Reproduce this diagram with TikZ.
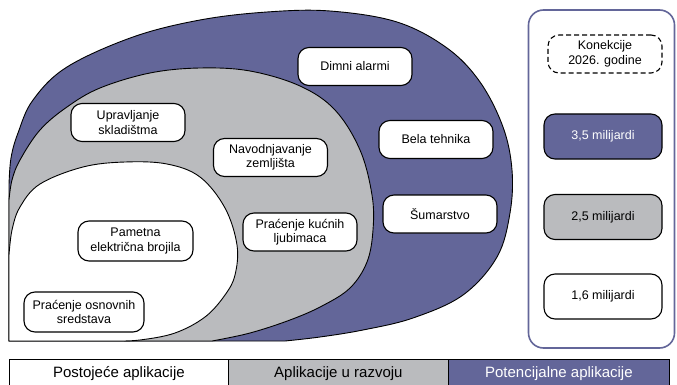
\documentclass[tikz,border=0pt]{standalone}
\usepackage{fontspec}
\setmainfont{Liberation Sans}
\definecolor{pblue}{RGB}{99,102,153}
\definecolor{pgrey}{RGB}{186,187,190}
\begin{document}
\begin{tikzpicture}[x=1pt,y=-1pt,
  appbox/.style={draw=black, line width=1.1pt, fill=white, rounded corners=11pt,
    minimum width=114pt, minimum height=38pt, align=center, inner sep=0pt,
    font=\fontsize{12.5}{14.5}\selectfont},
  valbox/.style={appbox, minimum width=118pt, minimum height=45pt},
  legbox/.style={draw=black, line width=0.8pt, minimum height=28pt, inner sep=0pt,
    anchor=north west, font=\fontsize{15}{18}\selectfont},
  region/.style={draw=black, line width=0.9pt}]
\useasboundingbox (0,0) rectangle (677,385);

% outer region (potential)
\path[region, fill=pblue] (9,341) -- (9,185)
  -- plot[smooth, tension=0.6] coordinates {(9,185) (11,158) (18,133) (33,100) (67,67) (133,37) (200,20) (267,12) (330,11) (397,22) (447,48) (480,82) (503,127) (512,170) (510,213) (497,257) (463,295) (413,318) (363,330) (320,337) (285,341)}
  -- cycle;
% middle region (in development)
\path[region, fill=pgrey] (9,341) -- (9,200)
  -- plot[smooth, tension=0.6] coordinates {(9,200) (12,180) (20,160) (40,130) (67,107) (100,88) (150,73) (200,68) (250,71) (300,86) (335,110) (360,150) (372,195) (373,230) (367,262) (350,288) (322,306) (290,320) (250,333) (212,341)}
  -- cycle;
% inner region (existing)
\path[region, fill=white] (9,341) -- (9,255)
  -- plot[smooth, tension=0.6] coordinates {(9,255) (12,230) (20,207) (40,184) (83,167) (125,162) (167,164) (200,177) (225,208) (237,245) (235,275) (225,295) (205,317) (175,333) (140,340) (115,341)}
  -- cycle;

% application boxes
\node[appbox] (dimni) at (355,66.5) {Dimni alarmi};
\node[appbox] (bela) at (436,139.5) {Bela tehnika};
\node[appbox] (suma) at (440,214) {Šumarstvo};
\node[appbox] (uprav) at (128,122.5) {Upravljanje\\skladištma};
\node[appbox] (navod) at (270.5,157.5) {Navodnjavanje\\zemljišta};
\node[appbox] (ljub) at (300,232) {Praćenje kućnih\\ljubimaca};
\node[appbox, minimum width=115pt, minimum height=40pt] (brojila) at (135.5,241) {Pametna\\električna brojila};
\node[appbox, minimum width=120pt, minimum height=40pt] (osnov) at (84,312) {Praćenje osnovnih\\sredstava};

% right panel
\node[draw=pblue, line width=1.6pt, rounded corners=15pt, minimum width=146pt,
  minimum height=338pt, inner sep=0pt] (panel) at (601.5,179) {};
\node[appbox, dash pattern=on 5pt off 3pt, line width=1.1pt] (konek) at (605,54) {Konekcije\\2026. godine};
\node[valbox, fill=pblue, text=white] (v35) at (603,136.5) {3,5 milijardi};
\node[valbox, fill=pgrey] (v25) at (603,217) {2,5 milijardi};
\node[valbox] (v16) at (603,296.5) {1,6 milijardi};

% legend
\node[legbox, fill=white, minimum width=219pt] (leg1) at (9,359) {Postojeće aplikacije};
\node[legbox, fill=pgrey, minimum width=220pt] (leg2) at (228,359) {Aplikacije u razvoju};
\node[legbox, fill=pblue, text=white, minimum width=221pt] (leg3) at (448,359) {Potencijalne aplikacije};
\end{tikzpicture}
\end{document}
